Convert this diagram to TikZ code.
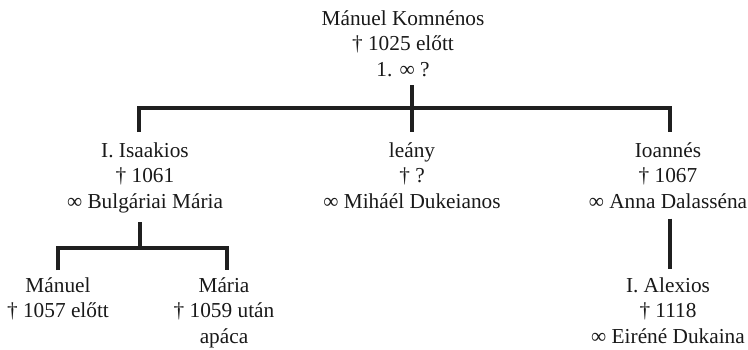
\documentclass[tikz,border=0pt]{standalone}
\usepackage{fontspec}
\setmainfont{Liberation Serif}
\begin{document}
\begin{tikzpicture}[x=1pt,y=-1pt,
  tree/.style={line width=3.2pt, draw=black!88},
  person/.style={align=center, inner sep=0pt, anchor=north, text=black!90,
    font=\fontsize{21.3}{25.5}\selectfont}]
\useasboundingbox (0,0) rectangle (748,349);
% persons
\node[person] (top) at (403,7.15) {\strut Mánuel Komnénos\\\strut † 1025 előtt\\\strut 1. ∞ ?};
\node[person] (isaak) at (145,139.15) {\strut I. Isaakios\\\strut † 1061\\\strut ∞ Bulgáriai Mária};
\node[person] (leany) at (412,139.15) {\strut leány\\\strut † ?\\\strut ∞ Miháél Dukeianos};
\node[person] (ioannes) at (668,139.15) {\strut Ioannés\\\strut † 1067\\\strut ∞ Anna Dalasséna};
\node[person] (manuel) at (58,274.15) {\strut Mánuel\\\strut † 1057 előtt};
\node[person] (maria) at (224,274.15) {\strut Mária\\\strut † 1059 után\\\strut apáca};
\node[person] (alexios) at (668,274.15) {\strut I. Alexios\\\strut † 1118\\\strut ∞ Eiréné Dukaina};
% junctions
\coordinate (j1) at (412,108);
\coordinate (bL) at (139,108);
\coordinate (bR) at (670,108);
\coordinate (j2) at (140,248);
\coordinate (cL) at (58,248);
\coordinate (cR) at (227,248);
% connectors
\draw[tree, shorten <=1.3pt, shorten >=7pt] (top.south -| j1) -- (leany.north -| j1);
\draw[tree, shorten <=7pt, shorten >=7pt] (bL |- isaak.north) -- (bL) -- (bR) -- (bR |- ioannes.north);
\draw[tree, shorten <=6pt] (isaak.south -| j2) -- (j2);
\draw[tree, shorten <=4pt, shorten >=4pt] (cL |- manuel.north) -- (cL) -- (cR) -- (cR |- maria.north);
\draw[tree, shorten <=2.5pt, shorten >=5pt] (ioannes.south -| bR) -- (alexios.north -| bR);
\end{tikzpicture}
\end{document}
